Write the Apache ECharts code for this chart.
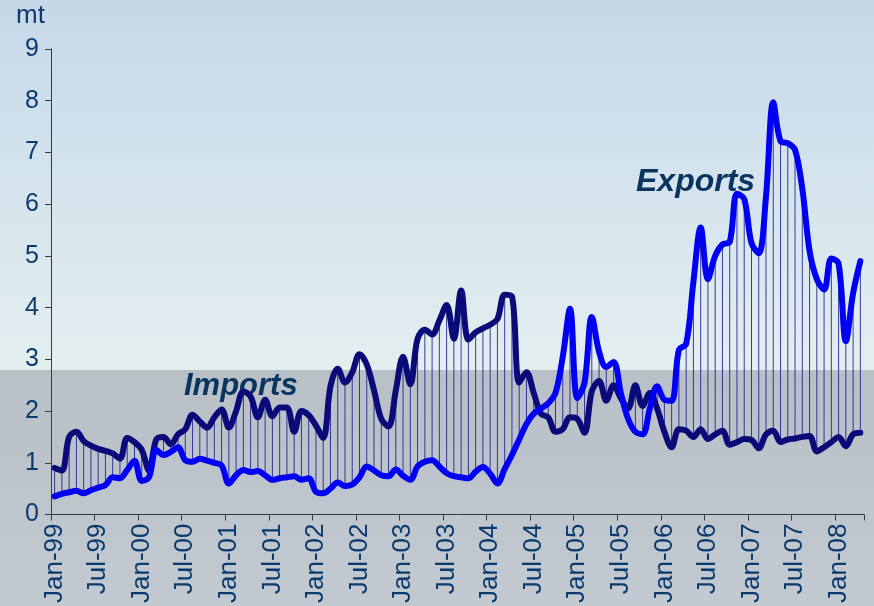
<!DOCTYPE html>
<html>
<head>
<meta charset="utf-8">
<script src="https://cdn.jsdelivr.net/npm/echarts@6/dist/echarts.min.js"></script>
<style>
  html, body { margin: 0; padding: 0; }
  #chart { width: 874px; height: 606px; }
</style>
</head>
<body>
<div id="chart"></div>
<script>
// Monthly category labels, Jan-99 .. Apr-08
const monthNames = ['Jan','Feb','Mar','Apr','May','Jun','Jul','Aug','Sep','Oct','Nov','Dec'];
const firstYear = 1999;
const monthCount = 112;
const categories = [];
for (let i = 0; i < monthCount; i++) {
  const y = firstYear + Math.floor(i / 12);
  categories.push(monthNames[i % 12] + '-' + String(y % 100).padStart(2, '0'));
}

// y-axis ticks (million tonnes)
const yTicks = [0, 1, 2, 3, 4, 5, 6, 7, 8, 9];

// Imports, mt per month
const imports = [
  0.90, 0.85, 1.50, 1.60, 1.42, 1.33, 1.27, 1.23, 1.18, 1.08, 1.48, 1.40,
  1.25, 0.85, 1.45, 1.50, 1.36, 1.55, 1.65, 1.93, 1.80, 1.68, 1.88, 2.03,
  1.68, 2.00, 2.38, 2.28, 1.88, 2.22, 1.90, 2.07, 2.07, 1.60, 2.00, 1.92,
  1.72, 1.48, 2.48, 2.82, 2.55, 2.75, 3.10, 2.90, 2.40, 1.85, 1.70, 2.40,
  3.05, 2.52, 3.40, 3.57, 3.48, 3.75, 4.05, 3.40, 4.33, 3.38, 3.52, 3.60,
  3.67, 3.78, 4.25, 4.22, 2.55, 2.75, 2.35, 1.95, 1.88, 1.60, 1.65, 1.88,
  1.85, 1.58, 2.38, 2.58, 2.20, 2.50, 2.25, 2.05, 2.50, 2.10, 2.35, 2.05,
  1.60, 1.30, 1.65, 1.62, 1.50, 1.65, 1.46, 1.55, 1.62, 1.35, 1.40, 1.46,
  1.44, 1.28, 1.55, 1.62, 1.40, 1.45, 1.47, 1.50, 1.52, 1.22, 1.30, 1.40,
  1.50, 1.32, 1.55, 1.58
];

// Exports, mt per month
const exports_ = [
  0.35, 0.40, 0.43, 0.46, 0.41, 0.47, 0.52, 0.57, 0.72, 0.70, 0.86, 1.04,
  0.65, 0.72, 1.25, 1.15, 1.21, 1.30, 1.05, 1.02, 1.08, 1.04, 1.00, 0.95,
  0.60, 0.76, 0.86, 0.82, 0.84, 0.76, 0.67, 0.70, 0.72, 0.74, 0.67, 0.70,
  0.44, 0.41, 0.50, 0.62, 0.55, 0.58, 0.72, 0.93, 0.85, 0.76, 0.74, 0.87,
  0.75, 0.67, 0.93, 1.02, 1.05, 0.93, 0.80, 0.74, 0.72, 0.70, 0.83, 0.92,
  0.79, 0.60, 0.88, 1.15, 1.45, 1.75, 1.95, 2.05, 2.15, 2.35, 3.05, 3.98,
  2.25, 2.55, 3.82, 3.15, 2.85, 2.95, 2.35, 1.85, 1.60, 1.55, 2.05, 2.48,
  2.22, 2.20, 3.18, 3.30, 4.50, 5.55, 4.55, 5.00, 5.22, 5.27, 6.20, 6.10,
  5.25, 5.05, 6.15, 7.97, 7.22, 7.18, 7.05, 6.30, 5.10, 4.55, 4.35, 4.95,
  4.85, 3.35, 4.28, 4.90
];

const textBlue = '#0b3b6e';
const font = 'Liberation Sans, Arial, sans-serif';

const chart = echarts.init(document.getElementById('chart'), null, { renderer: 'canvas' });

const spread = categories.map((c, i) => [i, imports[i], exports_[i]]);

chart.setOption({
  animation: false,
  graphic: [
    // sky
    { type: 'rect', z: -100, silent: true,
      shape: { x: 0, y: 0, width: 874, height: 370 },
      style: { fill: new echarts.graphic.LinearGradient(0, 0, 0, 1, [
        { offset: 0, color: '#c7d7e9' },
        { offset: 0.55, color: '#d6e5ed' },
        { offset: 1, color: '#e3eeef' }
      ]) } },
    // sea
    { type: 'rect', z: -100, silent: true,
      shape: { x: 0, y: 370, width: 874, height: 236 },
      style: { fill: new echarts.graphic.LinearGradient(0, 0, 0, 1, [
        { offset: 0, color: '#b8bfc7' },
        { offset: 0.5, color: '#bdc4cb' },
        { offset: 1, color: '#c2c9d0' }
      ]) } },
    { type: 'text', left: 16, top: 3,
      style: { text: 'mt', fill: textBlue, font: '26px ' + font } },
    { type: 'text', left: 184, top: 371,
      style: { text: 'Imports', fill: '#0a3560', font: 'italic bold 31px ' + font } },
    { type: 'text', left: 636, top: 166,
      style: { text: 'Exports', fill: '#0a3560', font: 'italic bold 32px ' + font } }
  ],
  grid: { left: 51, right: 10, top: 49, bottom: 88, containLabel: false },
  xAxis: {
    type: 'category',
    data: categories,
    boundaryGap: true,
    axisLine: { lineStyle: { color: '#3a3a3a', width: 1 } },
    axisTick: { show: true, interval: 5, length: 6, lineStyle: { color: '#3a3a3a' } },
    axisLabel: {
      interval: 5, rotate: 90, margin: 9,
      color: textBlue, fontSize: 26, fontFamily: font
    },
    splitLine: { show: false }
  },
  yAxis: {
    type: 'value',
    min: yTicks[0], max: yTicks[yTicks.length - 1], interval: 1,
    axisLine: { show: true, lineStyle: { color: '#3a3a3a', width: 1 } },
    axisTick: { show: true, length: 6, lineStyle: { color: '#3a3a3a' } },
    axisLabel: { margin: 12, color: textBlue, fontSize: 25, fontFamily: font },
    splitLine: { show: false }
  },
  series: [
    {
      name: 'Spread',
      type: 'custom',
      z: 1,
      encode: { x: 0, y: [1, 2] },
      data: spread,
      renderItem: function (params, api) {
        const i = api.value(0);
        const a = api.coord([i, api.value(1)]);
        const b = api.coord([i, api.value(2)]);
        return {
          type: 'line',
          shape: { x1: a[0], y1: a[1], x2: b[0], y2: b[1] },
          style: { stroke: '#1c1c8e', lineWidth: 1, opacity: 0.85 }
        };
      }
    },
    {
      name: 'Imports',
      type: 'line',
      z: 3,
      data: imports,
      smooth: 0.35,
      symbol: 'none',
      lineStyle: { color: '#0a0a78', width: 6, cap: 'round', join: 'round' }
    },
    {
      name: 'Exports',
      type: 'line',
      z: 4,
      data: exports_,
      smooth: 0.35,
      symbol: 'none',
      lineStyle: { color: '#0000f5', width: 6, cap: 'round', join: 'round' }
    }
  ]
});
</script>
</body>
</html>
